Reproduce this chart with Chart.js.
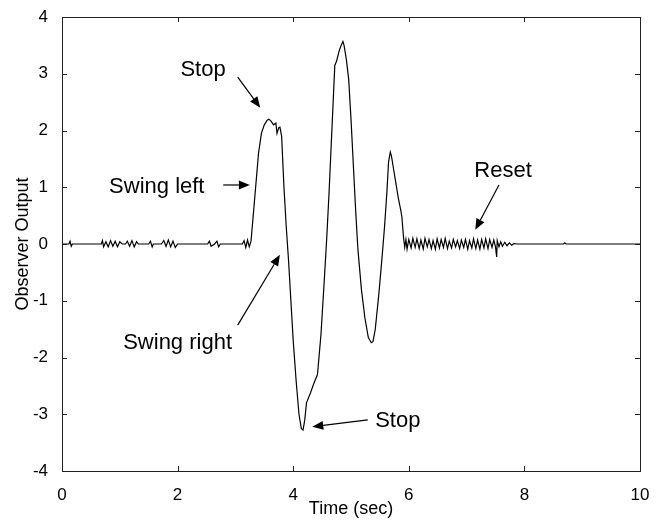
<!DOCTYPE html>
<html>
<head>
<meta charset="utf-8">
<script src="https://cdn.jsdelivr.net/npm/chart.js@4/dist/chart.umd.min.js"></script>
<style>
  html, body { margin: 0; padding: 0; background: #fff; }
  #wrap { width: 663px; height: 526px; }
</style>
</head>
<body>
<div id="wrap"><canvas id="obsChart"></canvas></div>
<script>
// time axis (sec) and observer output
var timeSec = [
  0, 0.12, 0.14, 0.16, 0.18, 0.68, 0.70, 0.72, 0.76, 0.80, 0.84, 0.88, 0.92, 0.96, 1.00, 1.04,
  1.10, 1.13, 1.17, 1.21, 1.25, 1.29, 1.32, 1.50, 1.53, 1.56, 1.58, 1.72, 1.76, 1.80, 1.84, 1.88,
  1.92, 1.96, 2.00, 2.52, 2.55, 2.58, 2.64, 2.68, 2.71, 2.74, 3.12, 3.15, 3.18, 3.21, 3.24, 3.27,
  3.30, 3.35, 3.40, 3.45, 3.50, 3.55, 3.58, 3.62, 3.66, 3.70, 3.72, 3.75, 3.77, 3.80, 3.84, 3.88,
  3.92, 3.96, 4.00, 4.05, 4.10, 4.14, 4.17, 4.20, 4.23, 4.26, 4.30, 4.36, 4.42, 4.48, 4.54, 4.58,
  4.62, 4.66, 4.70, 4.72, 4.75, 4.77, 4.80, 4.83, 4.86, 4.88, 4.92, 4.96, 5.00, 5.04, 5.08, 5.12,
  5.18, 5.24, 5.30, 5.35, 5.38, 5.42, 5.48, 5.54, 5.58, 5.62, 5.65, 5.68, 5.70, 5.74, 5.78, 5.82,
  5.86, 5.88, 5.91, 5.93, 5.95, 5.97, 6.00, 6.04, 6.07, 6.11, 6.14, 6.18, 6.21, 6.25, 6.28, 6.32,
  6.35, 6.39, 6.42, 6.46, 6.49, 6.53, 6.56, 6.60, 6.63, 6.67, 6.70, 6.74, 6.77, 6.81, 6.84, 6.88,
  6.91, 6.95, 6.98, 7.02, 7.05, 7.09, 7.12, 7.16, 7.19, 7.23, 7.26, 7.30, 7.33, 7.37, 7.40, 7.44,
  7.47, 7.50, 7.52, 7.53, 7.56, 7.59, 7.62, 7.66, 7.70, 7.74, 7.78, 7.82, 7.86, 8.68, 8.70, 8.72,
  10.0
];
var observerOutput = [
  0, 0, 0.05, -0.04, 0, 0, 0.06, -0.05, 0.04, -0.05, 0.06, -0.04, 0.05, -0.05, 0.04, 0,
  0, 0.05, -0.04, 0.06, -0.05, 0.04, 0, 0, 0.05, -0.05, 0, 0, 0.06, -0.04, 0.07, -0.05,
  0.05, -0.06, 0, 0, 0.05, -0.04, 0, 0.05, -0.05, 0, 0, 0.06, -0.06, 0.07, -0.05, 0.05,
  0.4, 1.0, 1.6, 1.95, 2.10, 2.18, 2.20, 2.16, 2.10, 2.13, 1.95, 2.05, 2.06, 1.9, 1.0, 0.3,
  -0.3, -1.0, -1.7, -2.4, -3.0, -3.25, -3.28, -3.1, -2.8, -2.72, -2.62, -2.45, -2.3, -1.6, -0.6, 0.1,
  0.9, 1.8, 2.7, 3.15, 3.22, 3.30, 3.42, 3.50, 3.57, 3.50, 3.25, 2.9, 2.2, 1.4, 0.6, -0.1,
  -0.8, -1.3, -1.65, -1.74, -1.72, -1.5, -0.9, -0.2, 0.3, 0.9, 1.45, 1.62, 1.55, 1.3, 1.05, 0.8,
  0.6, 0.48, 0.1, -0.06, 0.08, -0.09, 0.08, -0.07, 0.10, -0.06, 0.09, -0.08, 0.07, -0.09, 0.10, -0.05,
  0.08, -0.08, 0.06, -0.09, 0.09, -0.07, 0.08, -0.06, 0.10, -0.08, 0.05, -0.07, 0.08, -0.05, 0.06, -0.08,
  0.07, -0.06, 0.08, -0.09, 0.06, -0.07, 0.09, -0.08, 0.07, -0.09, 0.08, -0.07, 0.09, -0.08, 0.08, -0.06,
  0.07, -0.05, -0.23, 0.06, -0.05, 0.04, -0.04, 0.03, -0.03, 0.02, -0.02, 0.01, 0, 0, 0.02, 0,
  0
];
var xTicks = [0, 2, 4, 6, 8, 10];
var yTicks = [-4, -3, -2, -1, 0, 1, 2, 3, 4];

// text notes with arrows, in data units
var notes = [
  { text: 'Stop',        x: 2.44, y: 3.07,  from: [3.04, 2.94],  to: [3.43, 2.40] },
  { text: 'Swing left',  x: 1.64, y: 1.00,  from: [2.79, 1.04],  to: [3.25, 1.04] },
  { text: 'Swing right', x: 2.00, y: -1.74, from: [3.04, -1.43], to: [3.77, -0.19] },
  { text: 'Stop',        x: 5.81, y: -3.12, from: [5.29, -3.10], to: [4.33, -3.22] },
  { text: 'Reset',       x: 7.63, y: 1.29,  from: [7.56, 1.04],  to: [7.15, 0.25] }
];

var points = timeSec.map(function(t, i) { return { x: t, y: observerOutput[i] }; });
var fam = "'Liberation Sans', Arial, sans-serif";

// box around the axes with inward ticks (matlab style)
var boxPlugin = {
  id: 'box',
  afterDraw: function(chart) {
    var ctx = chart.ctx, a = chart.chartArea;
    var xs = chart.scales.x, ys = chart.scales.y;
    var len = 5;
    ctx.save();
    ctx.strokeStyle = '#222';
    ctx.lineWidth = 1;
    ctx.strokeRect(Math.round(a.left) + 0.5, Math.round(a.top) + 0.5,
      Math.round(a.right - a.left), Math.round(a.bottom - a.top));
    ctx.beginPath();
    xTicks.forEach(function(v) {
      var px = Math.round(xs.getPixelForValue(v)) + 0.5;
      ctx.moveTo(px, a.bottom); ctx.lineTo(px, a.bottom - len);
      ctx.moveTo(px, a.top); ctx.lineTo(px, a.top + len);
    });
    yTicks.forEach(function(v) {
      var py = Math.round(ys.getPixelForValue(v)) + 0.5;
      ctx.moveTo(a.left, py); ctx.lineTo(a.left + len, py);
      ctx.moveTo(a.right, py); ctx.lineTo(a.right - len, py);
    });
    ctx.stroke();
    ctx.restore();
  }
};

var notesPlugin = {
  id: 'notes',
  afterDatasetsDraw: function(chart) {
    var ctx = chart.ctx;
    var xs = chart.scales.x, ys = chart.scales.y;
    ctx.save();
    ctx.fillStyle = '#000';
    ctx.strokeStyle = '#000';
    ctx.font = '22px ' + fam;
    ctx.textAlign = 'center';
    ctx.textBaseline = 'middle';
    notes.forEach(function(n) {
      ctx.fillText(n.text, xs.getPixelForValue(n.x), ys.getPixelForValue(n.y));
      var x1 = xs.getPixelForValue(n.from[0]), y1 = ys.getPixelForValue(n.from[1]);
      var x2 = xs.getPixelForValue(n.to[0]), y2 = ys.getPixelForValue(n.to[1]);
      var ang = Math.atan2(y2 - y1, x2 - x1);
      var hl = 11, hw = 4.5;
      var bx = x2 - hl * Math.cos(ang), by = y2 - hl * Math.sin(ang);
      ctx.lineWidth = 1.2;
      ctx.beginPath();
      ctx.moveTo(x1, y1); ctx.lineTo(bx, by);
      ctx.stroke();
      ctx.beginPath();
      ctx.moveTo(x2, y2);
      ctx.lineTo(bx + hw * Math.sin(ang), by - hw * Math.cos(ang));
      ctx.lineTo(bx - hw * Math.sin(ang), by + hw * Math.cos(ang));
      ctx.closePath();
      ctx.fill();
    });
    ctx.restore();
  }
};

var ctx = document.getElementById('obsChart').getContext('2d');
var chart = new Chart(ctx, {
  type: 'scatter',
  data: {
    datasets: [{
      data: points,
      showLine: true,
      borderColor: '#000',
      borderWidth: 1.2,
      pointRadius: 0,
      tension: 0
    }]
  },
  options: {
    responsive: true,
    maintainAspectRatio: false,
    animation: false,
    layout: { padding: { left: 0, right: 23, top: 17, bottom: 0 } },
    plugins: { legend: { display: false }, tooltip: { enabled: false } },
    scales: {
      x: {
        type: 'linear', min: 0, max: 10,
        afterBuildTicks: function(s) { s.ticks = xTicks.map(function(v) { return { value: v }; }); },
        afterFit: function(s) { s.height = 55; },
        grid: { display: false },
        border: { display: false },
        ticks: { color: '#000', font: { family: fam, size: 17 }, padding: 6, maxRotation: 0 },
        title: { display: true, text: 'Time (sec)', color: '#000', font: { family: fam, size: 18 }, padding: { top: 0, bottom: 6 } }
      },
      y: {
        type: 'linear', min: -4, max: 4,
        afterBuildTicks: function(s) { s.ticks = yTicks.map(function(v) { return { value: v }; }); },
        afterFit: function(s) { s.width = 62; },
        grid: { display: false },
        border: { display: false },
        ticks: { color: '#000', font: { family: fam, size: 17 }, padding: 6 },
        title: { display: true, text: 'Observer Output', color: '#000', font: { family: fam, size: 18 }, padding: { top: 12, bottom: 0 } }
      }
    }
  },
  plugins: [boxPlugin, notesPlugin]
});
</script>
</body>
</html>
